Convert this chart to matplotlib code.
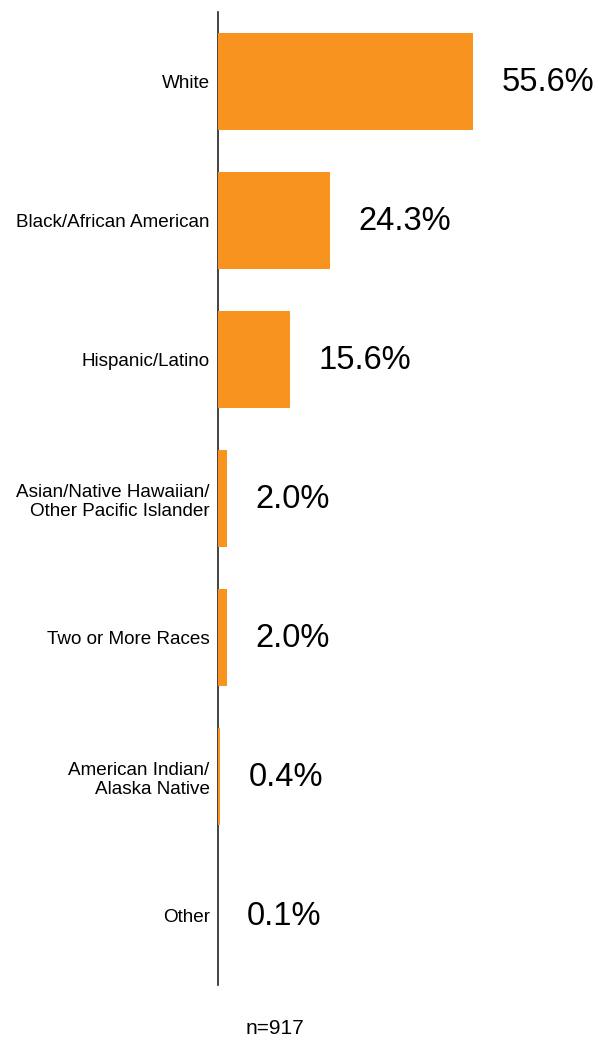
import matplotlib.pyplot as plt

plt.rcParams['font.family'] = ['Liberation Sans', 'DejaVu Sans']

categories = [
    "White",
    "Black/African American",
    "Hispanic/Latino",
    "Asian/Native Hawaiian/\nOther Pacific Islander",
    "Two or More Races",
    "American Indian/\nAlaska Native",
    "Other",
]
values = [55.6, 24.3, 15.6, 2.0, 2.0, 0.4, 0.1]
labels = ["55.6%", "24.3%", "15.6%", "2.0%", "2.0%", "0.4%", "0.1%"]

fig = plt.figure(figsize=(5.96, 10.41), dpi=100)
ax = fig.add_axes([218 / 596, 56 / 1041, 275.4 / 596, 973 / 1041])

pos = list(range(len(categories)))
ax.barh(pos, values, height=0.705, color="#F7931E", zorder=3)

for p, v, lab in zip(pos, values, labels):
    ax.annotate(lab, (v, p), xytext=(20.5, -1), textcoords="offset points",
                ha="left", va="center", fontsize=23.5, color="black")

ax.set_xlim(0, 60)
ax.set_ylim(6.5, -0.5)
ax.set_yticks(pos)
ax.set_yticklabels(categories, fontsize=13.6, ha="right", multialignment="right",
                   linespacing=1.2)
ax.tick_params(axis="y", length=0, pad=6)
ax.set_xticks([])
for s in ["top", "right", "bottom"]:
    ax.spines[s].set_visible(False)
ax.spines["left"].set_linewidth(1.2)
ax.spines["left"].set_color("#222222")
ax.spines["left"].set_zorder(1)

fig.text(275 / 596, 1 - 1029 / 1041, "n=917", ha="center", va="center", fontsize=15)

fig.savefig("out.png", dpi=100)
